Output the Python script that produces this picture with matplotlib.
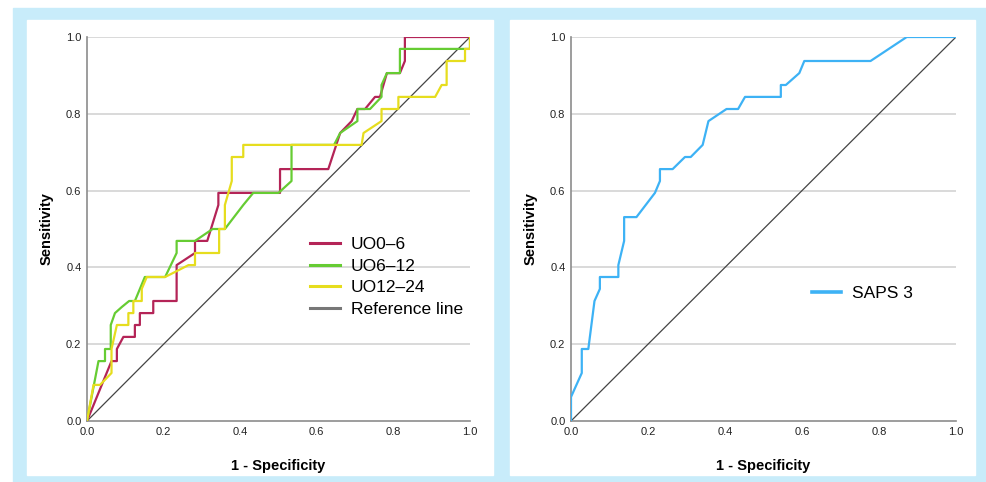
import matplotlib.pyplot as plt
from matplotlib.patches import Rectangle

plt.rcParams["font.family"] = ["Liberation Sans", "DejaVu Sans"]

# ROC curves (1 - specificity, sensitivity)
uo0_6_fpr = [0.0, 0.064, 0.078, 0.078, 0.095, 0.125, 0.125, 0.138, 0.138, 0.173, 0.173,
             0.234, 0.234, 0.282, 0.282, 0.314, 0.343, 0.343, 0.504, 0.504, 0.630, 0.661,
             0.691, 0.706, 0.726, 0.752, 0.765, 0.783, 0.817, 0.830, 0.830, 1.0]
uo0_6_tpr = [0.0, 0.156, 0.156, 0.1875, 0.219, 0.219, 0.25, 0.25, 0.281, 0.281, 0.3125,
             0.3125, 0.406, 0.4375, 0.469, 0.469, 0.5625, 0.594, 0.594, 0.656, 0.656, 0.75,
             0.781, 0.8125, 0.8125, 0.844, 0.844, 0.906, 0.906, 0.9375, 1.0, 1.0]

uo6_12_fpr = [0.0, 0.030, 0.047, 0.047, 0.062, 0.062, 0.073, 0.091, 0.110, 0.125, 0.151,
              0.204, 0.234, 0.234, 0.282, 0.328, 0.360, 0.408, 0.434, 0.500, 0.534, 0.534,
              0.645, 0.661, 0.706, 0.706, 0.739, 0.769, 0.769, 0.783, 0.817, 0.817, 1.0, 1.0]
uo6_12_tpr = [0.0, 0.156, 0.156, 0.1875, 0.1875, 0.25, 0.281, 0.297, 0.3125, 0.3125, 0.375,
              0.375, 0.4375, 0.469, 0.469, 0.5, 0.5, 0.5625, 0.594, 0.594, 0.625, 0.719,
              0.719, 0.75, 0.781, 0.8125, 0.8125, 0.844, 0.875, 0.906, 0.906, 0.969, 0.969, 1.0]

uo12_24_fpr = [0.0, 0.017, 0.034, 0.064, 0.064, 0.078, 0.108, 0.108, 0.121, 0.121, 0.143,
               0.143, 0.156, 0.204, 0.265, 0.282, 0.282, 0.345, 0.345, 0.360, 0.360, 0.378,
               0.378, 0.408, 0.408, 0.717, 0.722, 0.769, 0.769, 0.813, 0.813, 0.909, 0.926,
               0.939, 0.939, 0.987, 0.987, 1.0, 1.0]
uo12_24_tpr = [0.0, 0.094, 0.094, 0.125, 0.1875, 0.25, 0.25, 0.281, 0.281, 0.3125, 0.3125,
               0.344, 0.375, 0.375, 0.406, 0.406, 0.4375, 0.4375, 0.5, 0.5, 0.5625, 0.625,
               0.6875, 0.6875, 0.719, 0.719, 0.75, 0.781, 0.8125, 0.8125, 0.844, 0.844, 0.875,
               0.875, 0.9375, 0.9375, 0.969, 0.969, 1.0]

saps3_fpr = [0.0, 0.0, 0.028, 0.028, 0.045, 0.061, 0.075, 0.075, 0.123, 0.123, 0.138, 0.138,
             0.170, 0.218, 0.231, 0.231, 0.264, 0.296, 0.311, 0.342, 0.357, 0.404, 0.434,
             0.452, 0.545, 0.545, 0.558, 0.593, 0.606, 0.778, 0.872, 1.0]
saps3_tpr = [0.0, 0.0625, 0.125, 0.1875, 0.1875, 0.3125, 0.344, 0.375, 0.375, 0.406, 0.469,
             0.531, 0.531, 0.594, 0.625, 0.656, 0.656, 0.6875, 0.6875, 0.719, 0.781, 0.8125,
             0.8125, 0.844, 0.844, 0.875, 0.875, 0.906, 0.9375, 0.9375, 1.0, 1.0]

ticks = [0.0, 0.2, 0.4, 0.6, 0.8, 1.0]
tick_labels = ["0.0", "0.2", "0.4", "0.6", "0.8", "1.0"]

fig = plt.figure(figsize=(9.86, 4.82), dpi=100)
fig.patch.set_facecolor("white")

# light blue frame and the two white panels
fig.patches.append(Rectangle((13 / 986, 0), 973 / 986, 474 / 482,
                             transform=fig.transFigure, color="#c8ecfa", zorder=-3))
fig.patches.append(Rectangle((27 / 986, 7 / 482), 466 / 986, 455 / 482,
                             transform=fig.transFigure, color="white", zorder=-2))
fig.patches.append(Rectangle((510 / 986, 7 / 482), 465 / 986, 455 / 482,
                             transform=fig.transFigure, color="white", zorder=-2))

ax1 = fig.add_axes([87 / 986, 61 / 482, 383 / 986, 384 / 482])
ax2 = fig.add_axes([571 / 986, 61 / 482, 385 / 986, 384 / 482])


def style(ax):
    ax.set_xlim(0, 1)
    ax.set_ylim(0, 1)
    ax.set_facecolor("none")
    for s in ["top", "right"]:
        ax.spines[s].set_visible(False)
    for s in ["left", "bottom"]:
        ax.spines[s].set_color("#8c8c8c")
        ax.spines[s].set_linewidth(1.2)
    ax.set_xticks(ticks)
    ax.set_xticklabels(tick_labels)
    ax.set_yticks(ticks)
    ax.set_yticklabels(tick_labels)
    ax.tick_params(length=0, labelsize=8, colors="#222222", pad=4)
    for t in ticks[1:]:
        ax.axhline(t, color="#cfcfcf", linewidth=1.1, zorder=0)
    ax.set_xlabel("1 - Specificity", fontsize=10.5, fontweight="bold", labelpad=16)
    ax.set_ylabel("Sensitivity", fontsize=10.5, fontweight="bold", labelpad=9)


style(ax1)
style(ax2)

ax1.plot(uo0_6_fpr, uo0_6_tpr, color="#b42457", linewidth=1.6, label="UO0\u20136", zorder=3)
ax1.plot(uo6_12_fpr, uo6_12_tpr, color="#66cc33", linewidth=1.6, label="UO6\u201312", zorder=3)
ax1.plot(uo12_24_fpr, uo12_24_tpr, color="#e6dd1e", linewidth=1.6, label="UO12\u201324", zorder=3)
ax1.plot([0, 1], [0, 1], color="#444444", linewidth=0.9, label="Reference line", zorder=2)
leg1 = ax1.legend(loc="upper left", bbox_to_anchor=(0.582, 0.48), frameon=False,
                  fontsize=12.5, handlelength=1.72, handletextpad=0.63, labelspacing=0.38,
                  borderpad=0, borderaxespad=0)
for h in leg1.get_lines():
    h.set_linewidth(2.2)
leg1.get_lines()[3].set_color("#777777")

ax2.plot(saps3_fpr, saps3_tpr, color="#3db2f5", linewidth=1.6, label="SAPS 3", zorder=3)
ax2.plot([0, 1], [0, 1], color="#444444", linewidth=0.9, zorder=2)
leg2 = ax2.legend(loc="center left", bbox_to_anchor=(0.625, 0.333), frameon=False,
                  fontsize=12.5, handlelength=1.72, handletextpad=0.63,
                  borderpad=0, borderaxespad=0)
for h in leg2.get_lines():
    h.set_linewidth(2.6)

fig.savefig("out.png", dpi=100)
